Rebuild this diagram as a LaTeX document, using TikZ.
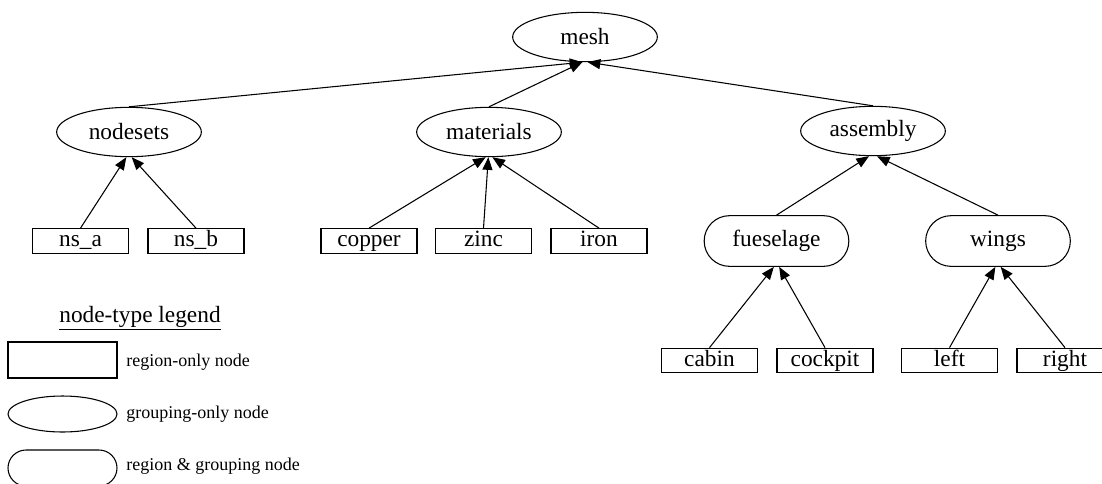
\documentclass[tikz,border=0pt]{standalone}
\usepackage{fontspec}
\setmainfont{Liberation Serif}
\usetikzlibrary{shapes.geometric,shapes.misc,arrows.meta}

\begin{document}
\begin{tikzpicture}[x=0.75pt,y=-0.75pt,
  every node/.style={inner sep=0pt,font=\fontsize{17.5}{20}\selectfont},
  grp/.style={draw,ellipse,line width=0.8pt,minimum width=108.5pt,minimum height=37pt},
  reg/.style={draw,rectangle,line width=0.8pt,minimum width=72pt,minimum height=18.5pt,text height=12pt,text depth=3.5pt},
  regrp/.style={draw,rounded rectangle,line width=0.8pt,minimum width=108.5pt,minimum height=38pt},
  legtext/.style={anchor=west,font=\fontsize{13.5}{16}\selectfont},
  tolink/.style={line width=0.8pt,-{Triangle[length=9.5pt,width=7.5pt]}}]
\useasboundingbox (0,0) rectangle (1102,483);
\clip (0,0) rectangle (1102,483);

% tree
\node[grp] (mesh) at (585,37) {mesh};
\node[grp] (nodesets) at (129,132) {nodesets};
\node[grp] (materials) at (489,132) {materials};
\node[grp] (assembly) at (873,131) {assembly};
\node[reg] (nsa) at (80.5,241) {ns\_a};
\node[reg] (nsb) at (196,241) {ns\_b};
\node[reg] (copper) at (369,241) {copper};
\node[reg] (zinc) at (483.5,241) {zinc};
\node[reg] (iron) at (599,241) {iron};
\node[regrp] (fueselage) at (776.5,241) {fueselage};
\node[regrp] (wings) at (998,241) {wings};
\node[reg] (cabin) at (709.5,360.5) {cabin};
\node[reg] (cockpit) at (825,360.5) {cockpit};
\node[reg] (left) at (949.5,360.5) {left};
\node[reg] (right) at (1065,360.5) {right};

\draw[tolink] (nodesets.north) -- ([xshift=-2pt]mesh.south);
\draw[tolink] (materials.north) -- ([xshift=-2pt]mesh.south);
\draw[tolink] (assembly.north) -- ([xshift=2pt]mesh.south);
\draw[tolink] (nsa.north) -- ([xshift=-2pt]nodesets.south);
\draw[tolink] (nsb.north) -- ([xshift=2pt]nodesets.south);
\draw[tolink] (copper.north) -- ([xshift=-2.5pt]materials.south);
\draw[tolink] (zinc.north) -- ([xshift=-0.5pt]materials.south);
\draw[tolink] (iron.north) -- ([xshift=2.5pt]materials.south);
\draw[tolink] (fueselage.north) -- ([xshift=-3pt]assembly.south);
\draw[tolink] (wings.north) -- ([xshift=3pt]assembly.south);
\draw[tolink] (cabin.north) -- ([xshift=-2pt]fueselage.south);
\draw[tolink] (cockpit.north) -- ([xshift=2pt]fueselage.south);
\draw[tolink] (left.north) -- ([xshift=-2pt]wings.south);
\draw[tolink] (right.north) -- ([xshift=2pt]wings.south);

% legend
\node (legtitle) at (140,318) {\underline{node-type legend}};
\node[draw,rectangle,line width=0.8pt,minimum width=81.75pt,minimum height=27pt] (legreg) at (62.5,360) {};
\node[draw,ellipse,line width=0.8pt,minimum width=81.75pt,minimum height=27pt] (leggrp) at (62.5,414) {};
\node[draw,rounded rectangle,line width=0.8pt,minimum width=81.75pt,minimum height=27pt] (legregrp) at (62.5,468) {};
\node[legtext] (legregtext) at (126,362) {region-only node};
\node[legtext] (leggrptext) at (126,414) {grouping-only node};
\node[legtext] (legregrptext) at (126,466) {region \& grouping node};
\end{tikzpicture}
\end{document}
